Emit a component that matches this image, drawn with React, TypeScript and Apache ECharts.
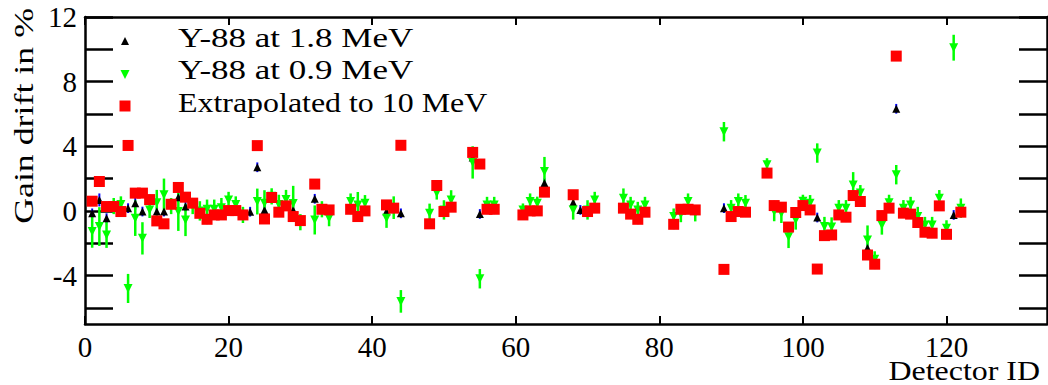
import { useEffect, useRef } from "react";
import * as echarts from "echarts";

// Detector numbering (detectors without a measurement are left out)
const detectorIds = [
  1, 2, 3, 4, 5, 6, 7, 8, 9, 10, 11, 12, 13, 14, 15, 16, 17, 18, 19, 20, 21, 22, 23, 24, 25, 26, 27, 28, 29, 30,
  32, 33, 34, 37, 38, 39, 42, 43, 44, 48, 49, 50, 51, 54, 55, 56, 57, 61, 62, 63, 64, 68, 69, 70, 71, 75, 76, 77, 78,
  82, 83, 84, 85, 89, 90, 91, 92, 95, 96, 97, 98, 99, 100, 101, 102, 103, 104, 105, 106, 107, 108, 109, 110, 111,
  112, 113, 114, 115, 116, 117, 118, 119, 120, 121, 122,
];

// Gain drift (%) from the Y-88 1.8 MeV line
const driftY88High = [
  -0.15, 0.68, -0.45, 0.27, 0.0, 0.17, 0.48, -0.04, 0.7, -0.04, -0.04, 0.41, 0.85, 0.27, 0.48, -0.15, -0.52, -0.25,
  -0.25, 0.02, 0.02, -0.25, -0.05, 2.7, 0.06, 0.83, -0.08, 0.31, 0.06, -0.6,
  0.75, 0.1, 0.06, 0.1, -0.35, 0.0, -0.04, 0.17, -0.15, -0.8, 1.57, -0.04, 0.23, 3.3, -0.19, 0.1, 0.1, -0.25, 0.0,
  0.0, 1.72, 0.52, 0.06, -0.04, 0.17, 0.17, -0.2, -0.52, -0.08,
  -0.83, 0.1, 0.1, 0.06, 0.17, -0.35, -0.04, -0.08, 2.34, 0.33, 0.23, -1.0, -0.1, 0.33, 0.06, -0.41, -1.53, -1.49,
  -0.25, -0.39, 0.95, 0.58, -2.3, -3.3, -0.29,
  0.17, 6.32, -0.14, -0.2, -0.72, -1.32, -1.38, 0.31, -1.45, -0.25, -0.08,
];
const errY88High = [
  0.3, 0.4, 0.3, 0.3, 0.3, 0.3, 0.4, 0.3, 0.3, 0.3, 0.3, 0.3, 0.3, 0.3, 0.3, 0.3, 0.3, 0.3,
  0.3, 0.3, 0.3, 0.3, 0.3, 0.3, 0.3, 0.3, 0.3, 0.3, 0.3, 0.3,
  0.3, 0.3, 0.3, 0.3, 0.3, 0.3, 0.3, 0.3, 0.3, 0.3, 0.3, 0.3, 0.3, 0.3, 0.3, 0.3, 0.3, 0.3, 0.3,
  0.3, 0.3, 0.3, 0.3, 0.3, 0.3, 0.3, 0.3, 0.3, 0.3,
  0.3, 0.3, 0.3, 0.3, 0.3, 0.3, 0.3, 0.3, 0.3, 0.3, 0.3, 0.3, 0.3, 0.3, 0.3, 0.3, 0.3, 0.3,
  0.3, 0.3, 0.3, 0.3, 0.3, 0.3, 0.3,
  0.3, 0.3, 0.3, 0.3, 0.3, 0.3, 0.3, 0.3, 0.3, 0.3, 0.3,
];

// Gain drift (%) from the Y-88 0.9 MeV line
const driftY88Low = [
  -1.28, -0.97, -1.49, 0.3, 0.4, -4.8, -0.45, -1.7, 0.06, 0.5, 1.0, 0.3, -0.04, -0.56, 0.3, 0.0, 0.1, 0.1,
  0.2, 0.68, 0.4, -0.25, null, 0.58, 0.48, 0.9, 0.4, 0.7, 0.45, -0.7,
  -0.56, 0.1, -0.45, 0.58, 0.37, 0.48, -0.45, 0.2, -5.6, -0.15, 1.1, 0.06, 0.68, 3.0, -4.2, 0.37, 0.37, 0.06, 0.58,
  0.48, 2.44, 0.06, null, 0.06, 0.68, 0.79, 0.37, 0.06, 0.37,
  -0.35, -0.2, 0.58, -0.15, 4.9, 0.17, 0.58, 0.48, 2.86, -0.04, -0.15, -1.6, -0.56, 0.6, 0.48, 3.58, -0.97, -1.0,
  0.17, 0.17, 1.6, 1.1, -1.8, -3.0, -0.87,
  0.5, 2.24, 0.17, 0.37, -0.35, -0.87, -0.87, 0.79, -1.08, 10.1, 0.17,
];
const errY88Low = [
  1.0, 1.2, 0.8, 0.5, 0.5, 0.9, 1.1, 1.0, 0.5, 0.8, 1.0, 0.5, 1.2, 1.0, 0.5, 0.6, 0.6, 0.6,
  0.6, 0.5, 0.5, 0.5, null, 0.8, 0.8, 0.5, 0.6, 0.6, 1.1, 0.5,
  0.9, 0.5, 0.5, 0.5, 0.8, 0.5, 0.6, 0.7, 0.7, 0.6, 0.4, 0.6, 0.6, 1.0, 0.6, 0.5, 0.5, 0.4, 0.5,
  0.4, 0.9, 0.6, null, 0.6, 0.5, 0.6, 0.5, 0.5, 0.5,
  0.5, 0.5, 0.5, 0.5, 0.6, 0.5, 0.5, 0.5, 0.4, 0.6, 0.6, 0.7, 0.6, 0.4, 0.5, 0.6, 0.6, 0.6,
  0.5, 0.5, 0.8, 0.5, 0.9, 0.5, 0.6,
  0.5, 0.6, 0.5, 0.5, 0.6, 0.5, 0.5, 0.5, 0.5, 0.8, 0.6,
];

// Gain drift (%) extrapolated to 10 MeV
const driftExtrapolated = [
  0.6, 1.82, 0.27, 0.27, -0.04, 4.05, 1.1, 1.1, 0.7, -0.62, -0.8, 0.41, 1.45, 0.85, 0.48, -0.15, -0.52, -0.25,
  -0.25, 0.02, 0.02, -0.25, null, 4.04, -0.5, 0.83, -0.08, 0.31, -0.35, -0.6,
  1.66, 0.1, 0.06, 0.1, -0.35, 0.0, 0.37, 0.17, 4.06, -0.8, 1.57, -0.04, 0.23, 3.62, 2.9, 0.1, 0.1, -0.25, 0.0,
  0.0, 1.16, 1.0, null, -0.04, 0.17, 0.17, -0.2, -0.52, -0.08,
  -0.83, 0.1, 0.1, 0.06, -3.62, -0.35, -0.04, -0.08, 2.34, 0.33, 0.23, -1.0, -0.1, 0.33, 0.06, -3.6, -1.53, -1.49,
  -0.25, -0.39, 0.95, 0.58, -2.73, -3.3, -0.29,
  0.17, 9.58, -0.14, -0.2, -0.72, -1.32, -1.38, 0.31, -1.45, null, -0.08,
];

const xTickValues = [0, 20, 40, 60, 80, 100, 120];
const yTickValues = [-6, -4, -2, 0, 2, 4, 6, 8, 10, 12];
const yLabelValues = [-4, 0, 4, 8, 12];

const legendLabels = ["Y-88 at 1.8 MeV", "Y-88 at 0.9 MeV", "Extrapolated to 10 MeV"];

const FONT = '"Liberation Serif", "Times New Roman", serif';

function points(values: (number | null)[]) {
  const out: number[][] = [];
  detectorIds.forEach((d, i) => {
    const v = values[i];
    if (v !== null && v !== undefined) out.push([d, v]);
  });
  return out;
}

function ranges(values: (number | null)[], errs: (number | null)[]) {
  const out: number[][] = [];
  detectorIds.forEach((d, i) => {
    const v = values[i];
    const e = errs[i];
    if (v !== null && v !== undefined && e !== null && e !== undefined) out.push([d, v - e, v + e]);
  });
  return out;
}

function errorBars(data: number[][], color: string, width: number) {
  return {
    type: "custom",
    data,
    silent: true,
    clip: true,
    encode: { x: 0, y: [1, 2] },
    renderItem: (_params: any, api: any) => {
      const x = api.value(0);
      const a = api.coord([x, api.value(1)]);
      const b = api.coord([x, api.value(2)]);
      return {
        type: "line",
        shape: { x1: a[0], y1: a[1], x2: b[0], y2: b[1] },
        style: { stroke: color, lineWidth: width },
      };
    },
  };
}

export default function App() {
  const ref = useRef<HTMLDivElement>(null);

  useEffect(() => {
    document.body.style.margin = "0";
    if (!ref.current) return;
    const chart = echarts.init(ref.current, null, { renderer: "svg" });

    const axisLineStyle = { color: "#000", width: 2.5 };
    const labelStyle = { fontFamily: FONT, fontSize: 29, color: "#000" };
    const titleStyle = { fontFamily: FONT, fontSize: 28, fill: "#000" };
    const legendRows = [38, 70, 102];
    const legendStretch = [1.25, 1.25, 1.14];

    chart.setOption({
      animation: false,
      backgroundColor: "#fff",
      grid: { left: 85, right: 1, top: 17, bottom: 61, containLabel: false, outerBoundsMode: "none" },
      xAxis: [
        {
          type: "value",
          position: "bottom",
          min: 0,
          max: 134,
          interval: 20,
          axisLine: { onZero: false, lineStyle: axisLineStyle },
          axisTick: { inside: true, length: 8, lineStyle: { color: "#000", width: 2 }, customValues: xTickValues },
          axisLabel: { ...labelStyle, margin: 8, customValues: xTickValues },
          splitLine: { show: false },
        },
        {
          type: "value",
          position: "top",
          min: 0,
          max: 134,
          interval: 20,
          axisLine: { onZero: false, lineStyle: axisLineStyle },
          axisTick: { inside: true, length: 8, lineStyle: { color: "#000", width: 2 }, customValues: xTickValues },
          axisLabel: { show: false },
          splitLine: { show: false },
        },
      ],
      yAxis: [
        {
          type: "value",
          position: "left",
          min: -7,
          max: 12,
          axisLine: { onZero: false, lineStyle: axisLineStyle },
          axisTick: { inside: true, length: 28, lineStyle: { color: "#000", width: 2.5 }, customValues: yTickValues },
          axisLabel: { ...labelStyle, margin: 8, customValues: yLabelValues },
          splitLine: { show: false },
        },
        {
          type: "value",
          position: "right",
          min: -7,
          max: 12,
          axisLine: { onZero: false, lineStyle: axisLineStyle },
          axisTick: { inside: true, length: 28, lineStyle: { color: "#000", width: 2.5 }, customValues: yTickValues },
          axisLabel: { show: false },
          splitLine: { show: false },
        },
      ],
      series: [
        errorBars(ranges(driftY88High, errY88High), "#0000ff", 2),
        {
          name: legendLabels[0],
          type: "scatter",
          data: points(driftY88High),
          symbol: "triangle",
          symbolSize: [8, 8],
          itemStyle: { color: "#000", opacity: 1 },
          silent: true,
        },
        errorBars(ranges(driftY88Low, errY88Low), "#00ff00", 2.5),
        {
          name: legendLabels[1],
          type: "scatter",
          data: points(driftY88Low),
          symbol: "triangle",
          symbolRotate: 180,
          symbolSize: [9, 9],
          itemStyle: { color: "#00ff00", opacity: 1 },
          silent: true,
        },
        {
          name: legendLabels[2],
          type: "scatter",
          data: points(driftExtrapolated),
          symbol: "rect",
          symbolSize: 11,
          itemStyle: { color: "#ff0000", opacity: 1 },
          silent: true,
        },
      ],
      graphic: [
        // legend markers
        { type: "polygon", shape: { points: [[121, 45], [129, 45], [125, 37]] }, style: { fill: "#000" } },
        { type: "polygon", shape: { points: [[120.5, 70], [129.5, 70], [125, 79]] }, style: { fill: "#00ff00" } },
        { type: "rect", shape: { x: 119.5, y: 100.5, width: 11, height: 11 }, style: { fill: "#ff0000" } },
        // legend texts
        ...legendLabels.map((t, i) => ({
          type: "text",
          x: 178,
          y: legendRows[i],
          scaleX: legendStretch[i],
          style: { ...titleStyle, text: t, align: "left", verticalAlign: "middle" },
        })),
        // axis titles
        {
          type: "text",
          x: 1040,
          y: 370,
          scaleX: 1.14,
          style: { ...titleStyle, text: "Detector ID", align: "right", verticalAlign: "middle" },
        },
        {
          type: "text",
          x: 23,
          y: 8,
          rotation: Math.PI / 2,
          scaleX: 1.28,
          style: { ...titleStyle, text: "Gain drift in %", align: "right", verticalAlign: "middle" },
        },
      ],
    });

    return () => chart.dispose();
  }, []);

  return <div ref={ref} style={{ width: 1048, height: 385 }} />;
}
